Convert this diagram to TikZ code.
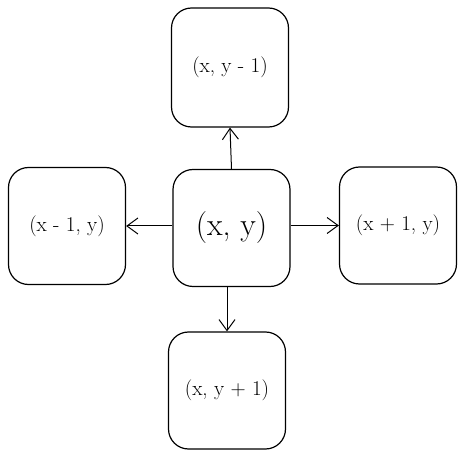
\documentclass[tikz,border=0pt]{standalone}
\usetikzlibrary{arrows.meta}

\begin{document}
\begin{tikzpicture}[
  x=1pt,
  y=-1pt,
  cell/.style={draw, line width=1.2pt, rounded corners=20pt, fill=white,
    minimum width=117pt, minimum height=117pt, inner sep=0pt, font=\fontsize{21}{24}\selectfont},
  link/.style={line width=1pt, -{Straight Barb[length=11pt,width=16pt,line width=1pt]}}
]
  \useasboundingbox (0,0) rectangle (467,460);

  \node[cell, font=\fontsize{32}{36}\selectfont] (here) at (231.5,228) {(x, y)};
  \node[cell, minimum height=119pt] (up) at (230,67.5) {(x, y - 1)};
  \node[cell] (left) at (67,226) {(x - 1, y)};
  \node[cell] (right) at (398,225.5) {(x + 1, y)};
  \node[cell] (down) at (227,390.5) {(x, y + 1)};

  % the four neighbours
  \draw[link] (here.north) -- (up.south);
  \draw[link] (here.west |- left) -- (left.east);
  \draw[link] (here.east |- right) -- (right.west);
  \draw[link] (down.north |- here.south) -- (down.north);
\end{tikzpicture}
\end{document}
